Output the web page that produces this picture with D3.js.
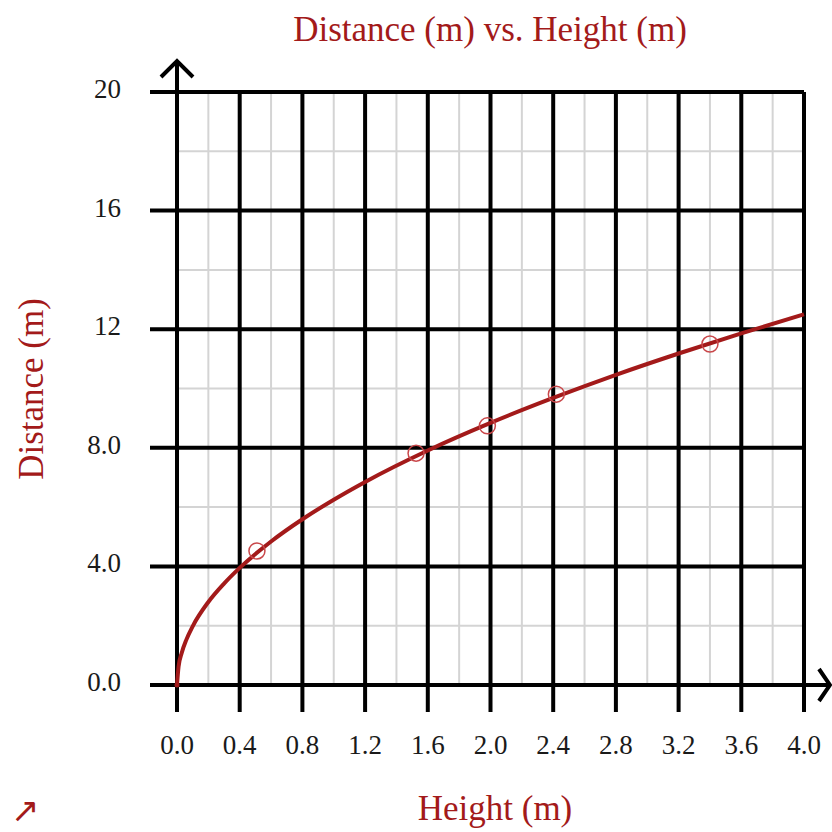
<!DOCTYPE html>
<html>
<head>
<meta charset="utf-8">
<script src="https://cdn.jsdelivr.net/npm/d3@7"></script>
<style>
  body { margin: 0; background: #fff; }
  text { font-family: "Liberation Serif", "Times New Roman", serif; }
</style>
</head>
<body>
<div id="chart"></div>
<script>
// measured points (height m, distance m)
var heights = [0.51, 1.525, 1.98, 2.42, 3.40];
var distances = [4.52, 7.82, 8.74, 9.81, 11.5];

// fitted curve
var fitHeights = [0, 0.01, 0.03, 0.06, 0.1, 0.2, 0.3, 0.4, 0.6, 0.8, 1.0, 1.2, 1.6, 2.0, 2.4, 2.8, 3.2, 3.6, 4.0];
var fitDistances = [0, 0.62, 1.08, 1.53, 1.98, 2.8, 3.42, 3.95, 4.84, 5.59, 6.25, 6.85, 7.91, 8.84, 9.68, 10.46, 11.18, 11.86, 12.5];

var xTicks = [0, 0.4, 0.8, 1.2, 1.6, 2.0, 2.4, 2.8, 3.2, 3.6, 4.0];
var yTicks = [0, 4, 8, 12, 16, 20];
var xMinor = [0.2, 0.6, 1.0, 1.4, 1.8, 2.2, 2.6, 3.0, 3.4, 3.8];
var yMinor = [2, 6, 10, 14, 18];

var red = '#a31a1a';
var width = 832, height = 832;
var margin = ({ top: 92, right: 28, bottom: 147, left: 177 });

var x = d3.scaleLinear()
    .domain([0, 4])
    .range([margin.left, width - margin.right]);
var y = d3.scaleLinear()
    .domain([0, 20])
    .range([height - margin.bottom, margin.top]);

var svg = d3.select('#chart')
    .append('svg')
    .attr('width', width)
    .attr('height', height);

// minor grid
svg.append('g')
    .attr('stroke', '#d4d4d4')
    .attr('stroke-width', 2)
    .call(g => g.selectAll('line.vx').data(xMinor).enter().append('line')
        .attr('x1', d => x(d)).attr('x2', d => x(d))
        .attr('y1', y(20)).attr('y2', y(0)))
    .call(g => g.selectAll('line.hy').data(yMinor).enter().append('line')
        .attr('y1', d => y(d)).attr('y2', d => y(d))
        .attr('x1', x(0)).attr('x2', x(4)));

// major grid
svg.append('g')
    .attr('stroke', '#000')
    .attr('stroke-width', 4)
    .call(g => g.selectAll('line.v').data(xTicks).enter().append('line')
        .attr('x1', d => x(d)).attr('x2', d => x(d))
        .attr('y1', d => d === 0 ? y(20) - 30 : y(20))
        .attr('y2', y(0) + 27))
    .call(g => g.selectAll('line.h').data(yTicks).enter().append('line')
        .attr('y1', d => y(d)).attr('y2', d => y(d))
        .attr('x1', x(0) - 27)
        .attr('x2', d => d === 0 ? x(4) + 25 : x(4)));

// axis arrows
svg.append('path')
    .attr('fill', 'none')
    .attr('stroke', '#000')
    .attr('stroke-width', 4)
    .attr('d', `M${x(0) - 16},${y(20) - 15}L${x(0)},${y(20) - 31}L${x(0) + 16},${y(20) - 15}`);
svg.append('path')
    .attr('fill', 'none')
    .attr('stroke', '#000')
    .attr('stroke-width', 4)
    .attr('d', `M${x(4) + 15},${y(0) - 16}L${x(4) + 26},${y(0)}L${x(4) + 15},${y(0) + 16}`);

// tick labels
svg.append('g')
    .attr('font-size', 27)
    .attr('text-anchor', 'middle')
    .attr('fill', '#1a1a1a')
    .selectAll('text').data(xTicks).enter().append('text')
    .attr('x', d => x(d))
    .attr('y', y(0) + 69)
    .text(d => d3.format('.1f')(d));

svg.append('g')
    .attr('font-size', 27)
    .attr('text-anchor', 'end')
    .attr('fill', '#1a1a1a')
    .selectAll('text').data(yTicks).enter().append('text')
    .attr('x', x(0) - 56)
    .attr('y', d => y(d) + 6)
    .text(d => d < 10 ? d3.format('.1f')(d) : d);

// fit curve
var fit = fitHeights.map((h, i) => [h, fitDistances[i]]);
svg.append('path')
    .datum(fit)
    .attr('fill', 'none')
    .attr('stroke', red)
    .attr('stroke-width', 4)
    .attr('d', d3.line().x(d => x(d[0])).y(d => y(d[1])).curve(d3.curveMonotoneX));

svg.append('circle')
    .attr('cx', x(0)).attr('cy', y(0)).attr('r', 2.5)
    .attr('fill', red);

// data points
svg.append('g')
    .selectAll('circle').data(heights).enter().append('circle')
    .attr('cx', d => x(d))
    .attr('cy', (d, i) => y(distances[i]))
    .attr('r', 8)
    .attr('fill', 'none')
    .attr('stroke', '#c9474a')
    .attr('stroke-width', 1.5);

// titles
svg.append('text')
    .attr('x', 490).attr('y', 41)
    .attr('text-anchor', 'middle')
    .attr('font-size', 35)
    .attr('fill', red)
    .text('Distance (m) vs. Height (m)');

svg.append('text')
    .attr('x', 495).attr('y', 820)
    .attr('text-anchor', 'middle')
    .attr('font-size', 35)
    .attr('fill', red)
    .text('Height (m)');

svg.append('text')
    .attr('transform', `translate(43,389) rotate(-90)`)
    .attr('text-anchor', 'middle')
    .attr('font-size', 35)
    .attr('fill', red)
    .text('Distance (m)');

svg.append('text')
    .attr('x', 25).attr('y', 822)
    .attr('text-anchor', 'middle')
    .attr('font-size', 34)
    .attr('fill', red)
    .text('↗');

svg.node();
</script>
</body>
</html>
